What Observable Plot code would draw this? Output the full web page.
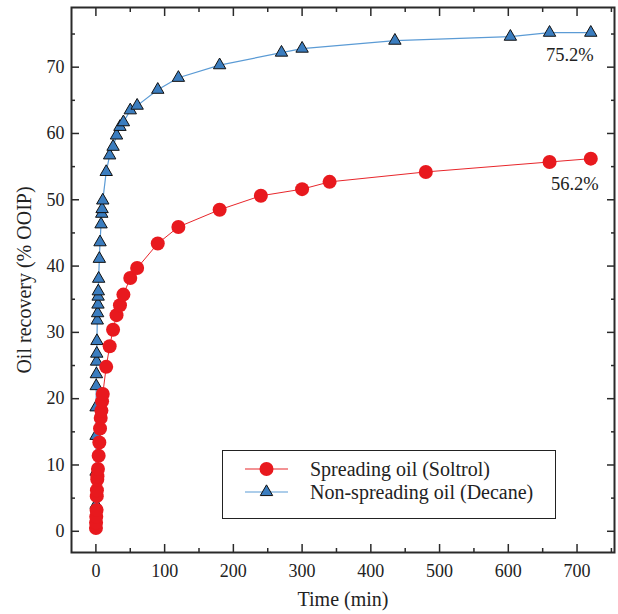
<!DOCTYPE html>
<html><head><meta charset="utf-8">
<script src="https://cdn.jsdelivr.net/npm/d3@7"></script>
<script src="https://cdn.jsdelivr.net/npm/@observablehq/plot@0.6"></script>
<style>
body{margin:0;background:#fff;}
#wrap{position:relative;width:618px;height:614px;font-family:"Liberation Serif","Times New Roman",serif;}
#legend{position:absolute;left:222px;top:450px;width:332px;height:67px;border:1.5px solid #222;background:#fff;}
</style></head><body><div id="wrap"></div>
<script>
// Spreading oil (Soltrol)
const soltrolTime = [0.1,0.25,0.5,1,1.25,1.5,2,2.25,3,4,5,6,7,8,9,10,15,20,25,30,35,40,50,60,90,120,180,240,300,340,480,660,720];
const soltrolRecovery = [0.5,1.3,2.2,3.2,5.3,6.2,7.8,8.3,9.4,11.4,13.4,15.5,17.1,18.2,19.6,20.7,24.8,27.9,30.4,32.6,34.1,35.7,38.2,39.7,43.4,45.9,48.5,50.6,51.6,52.7,54.2,55.7,56.2];
// Non-spreading oil (Decane)
const decaneTime = [0.25,0.25,0.25,0.25,0.5,0.75,1,1.25,1.5,2,2.5,3,3.25,3.5,4,5,6,7.5,8.5,9,10,15,20,25,30,35,40,50,60,90,120,180,270,300,435,603,660,720];
const decaneRecovery = [4.0,9.0,14.4,18.7,21.9,23.7,25.6,26.8,28.7,31.8,32.9,34.2,35.4,36.2,38.1,41.1,43.6,46.3,47.9,48.6,49.9,54.2,56.7,58.0,59.7,61.0,61.7,63.5,64.2,66.6,68.4,70.3,72.2,72.8,74.0,74.6,75.2,75.2];

const xTicks = [0,100,200,300,400,500,600,700];
const xMinorTicks = [50,150,250,350,450,550,650,750];
const yTicks = [0,10,20,30,40,50,60,70];
const yMinorTicks = [5,15,25,35,45,55,65,75];
const seriesNames = ["Spreading oil (Soltrol)", "Non-spreading oil (Decane)"];
const finalLabels = ["75.2%", "56.2%"];

const soltrol = soltrolTime.map((t, i) => ({t, r: soltrolRecovery[i]}));
const decane = decaneTime.map((t, i) => ({t, r: decaneRecovery[i]}));

const RED = "#e8191e", RED_LINE = "#e8262b", BLUE = "#3b7dbf", BLUE_LINE = "#5b9bd5", INK = "#2a2a2a";
const FONT = "'Liberation Serif','Times New Roman',serif";

const tickOpts = {stroke: INK, strokeWidth: 1.5, tickFormat: () => "", label: null};

const chart = Plot.plot({
  width: 618, height: 614,
  marginLeft: 71, marginRight: 4, marginTop: 7, marginBottom: 62,
  style: {fontFamily: FONT, fontSize: "18px", color: "#222", background: "#fff"},
  x: {domain: [-35.5, 754.5]},
  y: {domain: [-3.2, 79]},
  marks: [
    Plot.axisX({ticks: xTicks, tickSize: 0, tickPadding: 12, fontSize: 18, label: null}),
    Plot.axisX({ticks: [], fontSize: 20, label: "Time (min)", labelAnchor: "center", labelArrow: "none", labelOffset: 53}),
    Plot.axisX({ticks: xTicks, tickSize: -8, ...tickOpts}),
    Plot.axisX({ticks: xMinorTicks, tickSize: -4, ...tickOpts}),
    Plot.axisX({anchor: "top", ticks: xTicks, tickSize: -8, ...tickOpts}),
    Plot.axisX({anchor: "top", ticks: xMinorTicks, tickSize: -4, ...tickOpts}),
    Plot.axisY({ticks: yTicks, tickSize: 0, tickPadding: 7, fontSize: 18, label: null}),
    Plot.axisY({ticks: [], fontSize: 20, label: "Oil recovery (% OOIP)", labelAnchor: "center", labelArrow: "none", labelOffset: 55}),
    Plot.axisY({ticks: yTicks, tickSize: -8, ...tickOpts}),
    Plot.axisY({ticks: yMinorTicks, tickSize: -4, ...tickOpts}),
    Plot.axisY({anchor: "right", ticks: yTicks, tickSize: -8, ...tickOpts}),
    Plot.axisY({anchor: "right", ticks: yMinorTicks, tickSize: -4, ...tickOpts}),
    Plot.line(decane, {x: "t", y: "r", stroke: BLUE_LINE, strokeWidth: 1.2}),
    Plot.dot(decane, {x: "t", y: "r", symbol: "triangle", r: 4.6, fill: BLUE, stroke: "#111", strokeWidth: 1}),
    Plot.line(soltrol, {x: "t", y: "r", stroke: RED_LINE, strokeWidth: 1}),
    Plot.dot(soltrol, {x: "t", y: "r", r: 7, fill: RED, stroke: "none"}),
    Plot.text([decane[decane.length - 1]], {x: "t", y: "r", text: () => finalLabels[0], textAnchor: "end", dx: 3, dy: 22, fontSize: 18.5, fill: "#222"}),
    Plot.text([soltrol[soltrol.length - 1]], {x: "t", y: "r", text: () => finalLabels[1], textAnchor: "end", dx: 8, dy: 25, fontSize: 18.5, fill: "#222"}),
    Plot.frame({stroke: INK, strokeWidth: 2})
  ]
});

const wrap = document.getElementById("wrap");
wrap.appendChild(chart);

// Legend
const legend = document.createElement("div");
legend.id = "legend";
wrap.appendChild(legend);
const svg = d3.select(legend).append("svg").attr("width", 332).attr("height", 67);
const items = [
  {name: seriesNames[0], line: RED_LINE, symbol: d3.symbolCircle, size: Math.PI * 49, fill: RED, stroke: "none"},
  {name: seriesNames[1], line: BLUE_LINE, symbol: d3.symbolTriangle, size: Math.PI * 4.6 * 4.6, fill: BLUE, stroke: "#111"}
];
items.forEach((it, i) => {
  const y = 18 + i * 23;
  const g = svg.append("g").attr("transform", `translate(0,${y})`);
  g.append("line").attr("x1", 22).attr("x2", 65).attr("stroke", it.line).attr("stroke-width", 1.2);
  g.append("path").attr("transform", "translate(43.5,0)").attr("d", d3.symbol(it.symbol, it.size)()).attr("fill", it.fill).attr("stroke", it.stroke);
  g.append("text").attr("x", 87).attr("y", 0).attr("dy", "0.35em")
    .attr("font-family", FONT).attr("font-size", 20).attr("fill", "#222").text(it.name);
});
</script></body></html>
